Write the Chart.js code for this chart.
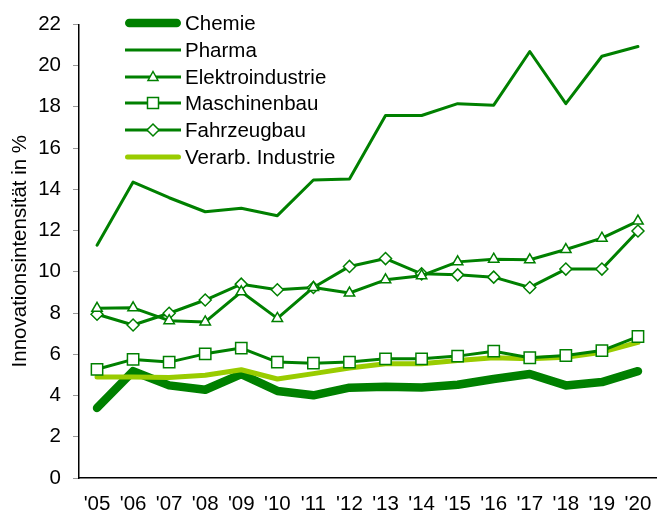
<!DOCTYPE html>
<html lang="de">
<head>
  <meta charset="UTF-8">
  <title>Innovationsintensität</title>
  <script src="https://cdn.jsdelivr.net/npm/chart.js"></script>
  <style>
    body { margin: 0; background: #fff; font-family: "Liberation Sans", Arial, sans-serif; }
    #wrap { position: relative; width: 667px; height: 513px; }
    #legend { position: absolute; left: 125px; top: 10px; }
    .row { display: flex; align-items: center; height: 26.7px; font-size: 20.5px; color: #000; }
    .row svg { width: 56px; height: 20px; margin-right: 4px; }
  </style>
</head>
<body>
<div id="wrap">
  <canvas id="chart" width="667" height="513"></canvas>
  <div id="legend"></div>
</div>

<script>
  const years = ["'05", "'06", "'07", "'08", "'09", "'10", "'11", "'12", "'13", "'14", "'15", "'16", "'17", "'18", "'19", "'20"];

  const chemie = [3.4, 5.18, 4.49, 4.28, 5.04, 4.22, 4.01, 4.38, 4.43, 4.39, 4.52, 4.8, 5.04, 4.49, 4.65, 5.18];
  const pharma = [11.29, 14.35, 13.59, 12.91, 13.08, 12.72, 14.45, 14.5, 17.58, 17.58, 18.15, 18.08, 20.68, 18.15, 20.45, 20.92];
  const elektro = [8.23, 8.25, 7.63, 7.57, 9.03, 7.74, 9.24, 8.97, 9.61, 9.81, 10.48, 10.61, 10.58, 11.08, 11.63, 12.46];
  const maschinenbau = [5.27, 5.75, 5.62, 6.02, 6.3, 5.62, 5.57, 5.62, 5.78, 5.78, 5.91, 6.15, 5.83, 5.94, 6.18, 6.86];
  const fahrzeugbau = [7.94, 7.42, 7.99, 8.63, 9.4, 9.13, 9.24, 10.26, 10.64, 9.9, 9.85, 9.74, 9.24, 10.13, 10.13, 11.98];
  const verarb = [4.9, 4.9, 4.87, 4.98, 5.25, 4.8, 5.06, 5.33, 5.54, 5.54, 5.7, 5.83, 5.78, 5.86, 6.1, 6.58];

  const yTicks = [0, 2, 4, 6, 8, 10, 12, 14, 16, 18, 20, 22];

  const green = '#008000';
  const lime = '#99cc00';
  const font = { family: '"Liberation Sans", Arial, sans-serif', size: 20.5 };

  const series = [
    { label: 'Chemie', data: chemie, color: green, width: 8.5, marker: null, order: 5 },
    { label: 'Pharma', data: pharma, color: green, width: 3, marker: null, order: 3 },
    { label: 'Elektroindustrie', data: elektro, color: green, width: 3, marker: 'triangle', radius: 6, order: 0 },
    { label: 'Maschinenbau', data: maschinenbau, color: green, width: 3, marker: 'rect', radius: 8, order: 2 },
    { label: 'Fahrzeugbau', data: fahrzeugbau, color: green, width: 3, marker: 'rectRot', radius: 6, order: 1 },
    { label: 'Verarb. Industrie', data: verarb, color: lime, width: 5, marker: null, order: 4 }
  ];

  const datasets = series.map(s => ({
    label: s.label,
    data: s.data,
    borderColor: s.color,
    borderWidth: s.width,
    borderCapStyle: 'round',
    borderJoinStyle: 'round',
    tension: 0,
    fill: false,
    order: s.order,
    pointStyle: s.marker || 'circle',
    pointRadius: s.marker ? s.radius : 0,
    pointHoverRadius: s.marker ? s.radius : 0,
    pointBackgroundColor: '#fff',
    pointBorderColor: s.color,
    pointBorderWidth: 1.5
  }));

  new Chart(document.getElementById('chart'), {
    type: 'line',
    data: { labels: years, datasets },
    options: {
      responsive: false,
      animation: false,
      layout: { padding: { top: 23, right: 11, bottom: 0, left: 0 } },
      plugins: { legend: { display: false }, tooltip: { enabled: false } },
      scales: {
        x: {
          offset: true,
          grid: { display: false, drawTicks: false },
          border: { color: '#000', width: 1.5 },
          ticks: { color: '#000', font, padding: 14, maxRotation: 0, autoSkip: false },
          afterFit: s => { s.height = 35; }
        },
        y: {
          min: 0, max: 22,
          afterBuildTicks: s => { s.ticks = yTicks.map(v => ({ value: v })); },
          grid: { drawOnChartArea: false, tickLength: 6, color: '#999' },
          border: { color: '#000', width: 1.5 },
          ticks: { color: '#000', font, padding: 12 },
          title: { display: true, text: 'Innovationsintensität in %', color: '#000', font, padding: { top: 8, bottom: 0 } },
          afterFit: s => { s.width = 79; }
        }
      }
    }
  });

  // legend rows, line sample with marker in the middle
  function markerSvg(s) {
    const c = s.color;
    let m = '';
    if (s.marker === 'triangle') m = `<polygon points="28,4.5 33,13.5 23,13.5" fill="#fff" stroke="${c}" stroke-width="1.5"/>`;
    if (s.marker === 'rect') m = `<rect x="22.5" y="4.5" width="11" height="11" fill="#fff" stroke="${c}" stroke-width="1.5"/>`;
    if (s.marker === 'rectRot') m = `<polygon points="28,4 34,10 28,16 22,10" fill="#fff" stroke="${c}" stroke-width="1.5"/>`;
    const cap = s.width > 4 ? 'round' : 'butt';
    const x1 = s.width / 2, x2 = 56 - s.width / 2;
    return `<svg viewBox="0 0 56 20"><line x1="${cap === 'round' ? x1 : 0}" y1="10" x2="${cap === 'round' ? x2 : 56}" y2="10" stroke="${c}" stroke-width="${s.width}" stroke-linecap="${cap}"/>${m}</svg>`;
  }
  document.getElementById('legend').innerHTML = series.map(s =>
    `<div class="row">${markerSvg(s)}<span>${s.label}</span></div>`).join('');
</script>
</body>
</html>
